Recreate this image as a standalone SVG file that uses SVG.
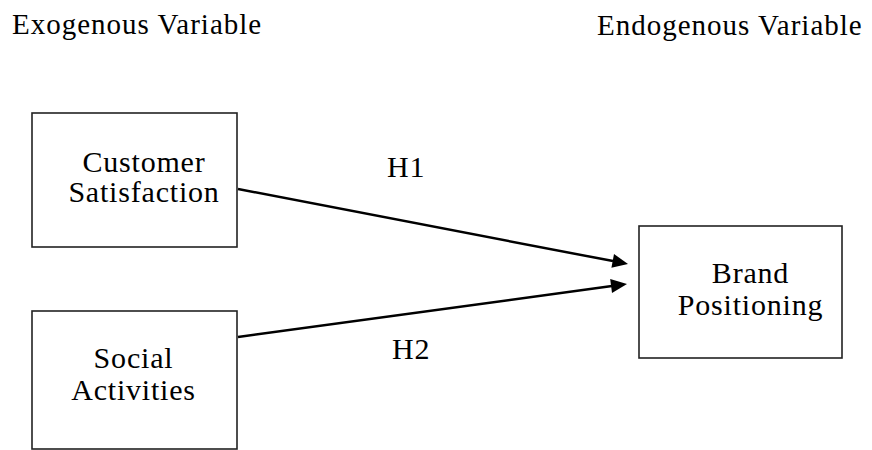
<svg xmlns="http://www.w3.org/2000/svg" width="872" height="450" viewBox="0 0 872 450">
  <style>
    .t { font-family: "Liberation Serif", serif; font-size: 30px; letter-spacing: 0.8px; fill: #000; }
    .h { font-family: "Liberation Serif", serif; font-size: 29px; letter-spacing: 1px; fill: #000; }
    .c { text-anchor: middle; }
    .box { fill: #fff; stroke: #222; stroke-width: 1.6; }
    .edge { stroke: #000; stroke-width: 2.5; fill: none; }
  </style>
  <rect width="872" height="450" fill="#fff"/>
  <g id="header-exogenous"><text class="h" x="12" y="34">Exogenous Variable</text></g>
  <g id="header-endogenous"><text class="h" x="597" y="35">Endogenous Variable</text></g>
  <g id="customer-satisfaction">
    <rect class="box" x="32" y="113" width="205" height="134"/>
    <text class="t c" x="144" y="172">Customer</text>
    <text class="t c" x="144" y="202">Satisfaction</text>
  </g>
  <g id="social-activities">
    <rect class="box" x="32" y="311" width="205" height="138"/>
    <text class="t c" x="133.5" y="368">Social</text>
    <text class="t c" x="133.5" y="400">Activities</text>
  </g>
  <g id="brand-positioning">
    <rect class="box" x="639" y="226" width="203" height="132"/>
    <text class="t c" x="750.5" y="283">Brand</text>
    <text class="t c" x="750.5" y="315">Positioning</text>
  </g>
  <g id="connectors">
    <line class="edge" x1="238" y1="189" x2="613" y2="261.1"/>
    <polygon points="628,264 611.4,267.7 614.0,254.0" fill="#000"/>
    <line class="edge" x1="238" y1="337" x2="612" y2="286"/>
    <polygon points="627,284 612.0,293.0 610.2,279.1" fill="#000"/>
    <text class="t" x="387" y="177">H1</text>
    <text class="t" x="392" y="359">H2</text>
  </g>
</svg>
